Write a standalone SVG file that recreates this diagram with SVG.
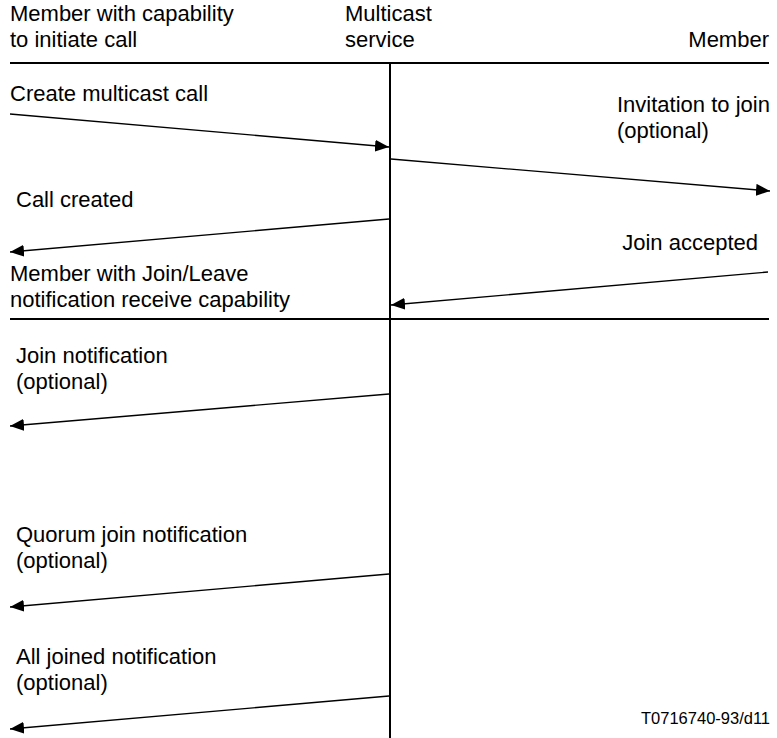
<svg xmlns="http://www.w3.org/2000/svg" width="777" height="738" viewBox="0 0 777 738">
  <style>
    text { font-family: "Liberation Sans", Arial, sans-serif; font-size: 22px; fill: #000; }
    .end { text-anchor: end; }
    .small { font-size: 16.5px; }
    .rule { stroke: #000; stroke-width: 2; fill: none; }
    .msg { stroke: #000; stroke-width: 1.3; fill: none; marker-end: url(#head); }
  </style>
  <defs>
    <marker id="head" viewBox="0 0 14 12" refX="14" refY="6" markerWidth="14" markerHeight="12" markerUnits="userSpaceOnUse" orient="auto">
      <path d="M0,0 L14,6 L0,12 Z" fill="#000"/>
    </marker>
  </defs>

  <!-- lanes and dividers -->
  <g id="frame">
    <line class="rule" x1="10" y1="63" x2="769" y2="63"/>
    <line class="rule" x1="10" y1="319" x2="769" y2="319"/>
    <line class="rule" x1="390" y1="63" x2="390" y2="738"/>
  </g>

  <g id="initiator">
    <text x="10" y="21">Member with capability</text>
    <text x="10" y="47">to initiate call</text>
  </g>
  <g id="service">
    <text x="345" y="21">Multicast</text>
    <text x="345" y="47">service</text>
  </g>
  <g id="member">
    <text class="end" x="769" y="47">Member</text>
  </g>
  <g id="notified-member">
    <text x="10" y="281">Member with Join/Leave</text>
    <text x="10" y="307">notification receive capability</text>
  </g>

  <!-- message arrows -->
  <g id="connectors">
    <line class="msg" x1="10" y1="114" x2="389" y2="147"/>
    <line class="msg" x1="391" y1="159" x2="770" y2="191"/>
    <line class="msg" x1="389" y1="219" x2="10" y2="252"/>
    <line class="msg" x1="768" y1="272" x2="391" y2="305"/>
    <line class="msg" x1="389" y1="394" x2="10" y2="426"/>
    <line class="msg" x1="389" y1="574" x2="10" y2="607"/>
    <line class="msg" x1="389" y1="696" x2="10" y2="729"/>
  </g>

  <g id="labels">
    <text x="10" y="101">Create multicast call</text>
    <text x="617" y="112">Invitation to join</text>
    <text x="617" y="138">(optional)</text>
    <text x="16" y="207">Call created</text>
    <text class="end" x="758" y="250">Join accepted</text>
    <text x="16" y="363">Join notification</text>
    <text x="16" y="389">(optional)</text>
    <text x="16" y="542">Quorum join notification</text>
    <text x="16" y="568">(optional)</text>
    <text x="16" y="664">All joined notification</text>
    <text x="16" y="690">(optional)</text>
    <text class="small" x="641" y="724">T0716740-93/d11</text>
  </g>
</svg>
